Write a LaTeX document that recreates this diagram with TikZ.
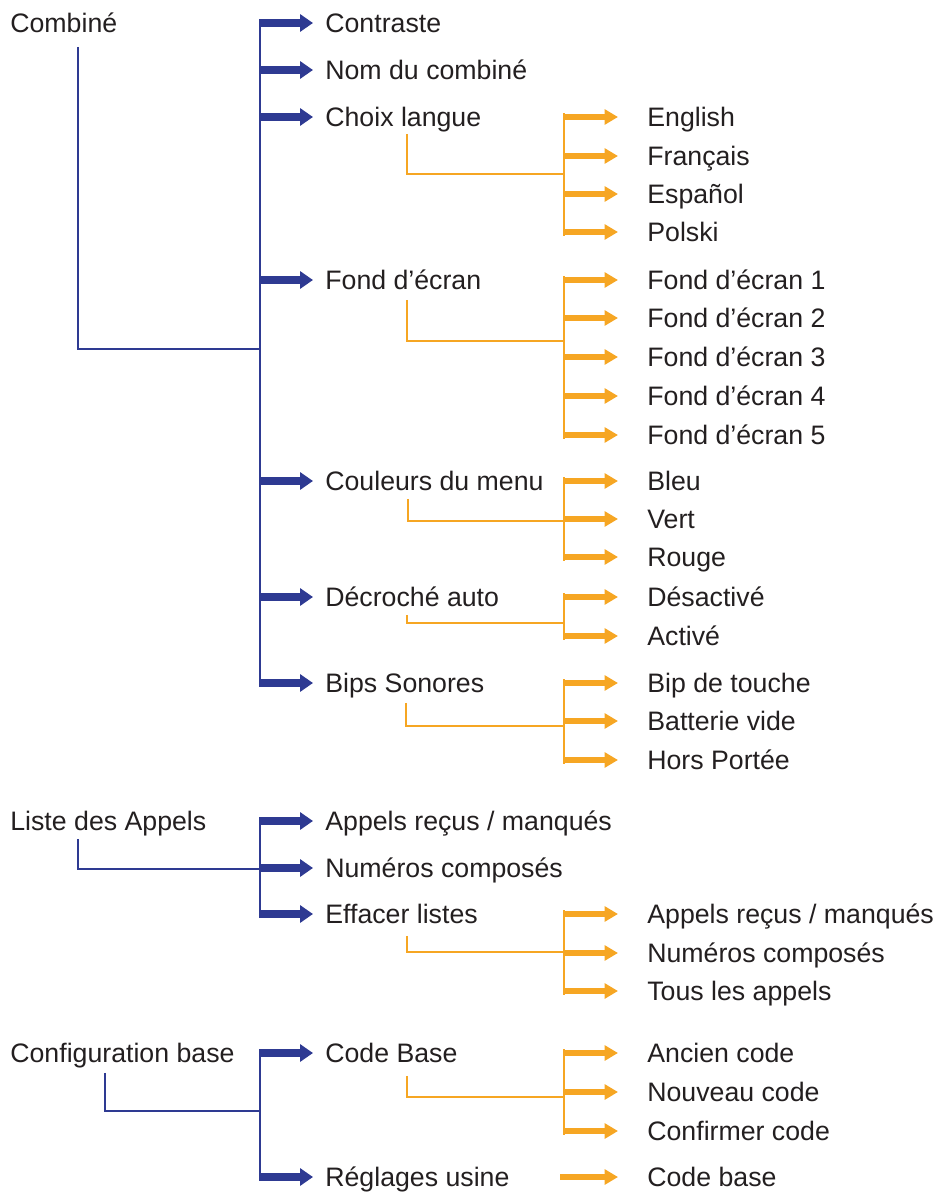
\documentclass[tikz,border=0pt]{standalone}
\usepackage{fontspec}
\setmainfont{Liberation Sans}
\usepackage{tikz}
\usetikzlibrary{arrows.meta,positioning,calc}

\definecolor{menublue}{RGB}{46,58,146}
\definecolor{menuorange}{RGB}{246,166,35}
\definecolor{menutext}{RGB}{35,31,32}

\begin{document}
\begin{tikzpicture}[x=0.02cm,y=-0.02cm,>=Latex]
\tikzstyle{item}=[anchor=west, inner sep=0pt, text height=10.8pt, text depth=0pt, text=menutext, font=\fontsize{15.2}{18}\selectfont]
\tikzstyle{bluelink}=[menublue, line width=1.1pt]
\tikzstyle{bluearrow}=[menublue, line width=4.2pt, -{Triangle[length=7.4pt,width=9.7pt]}, shorten >=0.24cm]
\tikzstyle{orangelink}=[menuorange, line width=1.1pt]
\tikzstyle{orangearrow}=[menuorange, line width=3.5pt, -{Triangle[length=7.6pt,width=8.4pt]}, shorten >=0.58cm]
\useasboundingbox (0,0) rectangle (938,1192);

% left column
\node[item] (combine) at (10,23) {Combiné};
\node[item] (liste) at (10,821) {Liste des Appels};
\node[item] (config) at (10,1053) {Configuration base};

% first level
\node[item] (contraste) at (325,23) {Contraste};
\node[item] (nom) at (325,70) {Nom du combiné};
\node[item] (choix) at (325,117) {Choix langue};
\node[item] (fond) at (325,280) {Fond d'écran};
\node[item] (couleurs) at (325,481) {Couleurs du menu};
\node[item] (decroche) at (325,597) {Décroché auto};
\node[item] (bips) at (325,683) {Bips Sonores};
\node[item] (appels) at (325,821) {Appels reçus / manqués};
\node[item] (numeros) at (325,868) {Numéros composés};
\node[item] (effacer) at (325,914) {Effacer listes};
\node[item] (codebase) at (325,1053) {Code Base};
\node[item] (reglages) at (325,1177) {Réglages usine};

% second level
\node[item] (english) at (647,117) {English};
\node[item] (francais) at (647,156) {Français};
\node[item] (espanol) at (647,194) {Español};
\node[item] (polski) at (647,232) {Polski};
\node[item] (fonda) at (647,280) {Fond d'écran 1};
\node[item] (fondb) at (647,318) {Fond d'écran 2};
\node[item] (fondc) at (647,357) {Fond d'écran 3};
\node[item] (fondd) at (647,396) {Fond d'écran 4};
\node[item] (fonde) at (647,435) {Fond d'écran 5};
\node[item] (bleu) at (647,481) {Bleu};
\node[item] (vert) at (647,519) {Vert};
\node[item] (rouge) at (647,557) {Rouge};
\node[item] (desactive) at (647,597) {Désactivé};
\node[item] (active) at (647,636) {Activé};
\node[item] (bip) at (647,683) {Bip de touche};
\node[item] (batterie) at (647,721) {Batterie vide};
\node[item] (hors) at (647,760) {Hors Portée};
\node[item] (effappels) at (647,914) {Appels reçus / manqués};
\node[item] (effnumeros) at (647,953) {Numéros composés};
\node[item] (tous) at (647,991) {Tous les appels};
\node[item] (ancien) at (647,1053) {Ancien code};
\node[item] (nouveau) at (647,1092) {Nouveau code};
\node[item] (confirmer) at (647,1131) {Confirmer code};
\node[item] (usinecode) at (647,1177) {Code base};

% junctions
\coordinate (jcombine) at (260,349);
\coordinate (jliste) at (260,869);
\coordinate (jconfig) at (260,1111);
\coordinate (jchoix) at (564,174);
\coordinate (jfond) at (564,341);
\coordinate (jcouleurs) at (564,521);
\coordinate (jdecroche) at (564,623);
\coordinate (jbips) at (564,726);
\coordinate (jeffacer) at (564,952);
\coordinate (jcodebase) at (564,1097);

% blue trees
\draw[bluelink] (combine.south west) ++(68,14) |- (jcombine);
\draw[bluelink] ([yshift=2pt]contraste.west -| jcombine) -- ([yshift=-2pt]bips.west -| jcombine);
\draw[bluearrow] (contraste.west -| jcombine) -- (contraste.west);
\draw[bluearrow] (nom.west -| jcombine) -- (nom.west);
\draw[bluearrow] (choix.west -| jcombine) -- (choix.west);
\draw[bluearrow] (fond.west -| jcombine) -- (fond.west);
\draw[bluearrow] (couleurs.west -| jcombine) -- (couleurs.west);
\draw[bluearrow] (decroche.west -| jcombine) -- (decroche.west);
\draw[bluearrow] (bips.west -| jcombine) -- (bips.west);

\draw[bluelink] (liste.south west) ++(68,8) |- (jliste);
\draw[bluelink] ([yshift=2pt]appels.west -| jliste) -- ([yshift=-2pt]effacer.west -| jliste);
\draw[bluearrow] (appels.west -| jliste) -- (appels.west);
\draw[bluearrow] (numeros.west -| jliste) -- (numeros.west);
\draw[bluearrow] (effacer.west -| jliste) -- (effacer.west);

\draw[bluelink] (config.south west) ++(95,10) |- (jconfig);
\draw[bluelink] ([yshift=2pt]codebase.west -| jconfig) -- ([yshift=-2pt]reglages.west -| jconfig);
\draw[bluearrow] (codebase.west -| jconfig) -- (codebase.west);
\draw[bluearrow] (reglages.west -| jconfig) -- (reglages.west);

% orange trees
\draw[orangelink] (choix.south west) ++(82,7) |- (jchoix);
\draw[orangelink] ([yshift=2pt]english.west -| jchoix) -- ([yshift=-2pt]polski.west -| jchoix);
\draw[orangearrow] (english.west -| jchoix) -- (english.west);
\draw[orangearrow] (francais.west -| jchoix) -- (francais.west);
\draw[orangearrow] (espanol.west -| jchoix) -- (espanol.west);
\draw[orangearrow] (polski.west -| jchoix) -- (polski.west);

\draw[orangelink] (fond.south west) ++(82,10) |- (jfond);
\draw[orangelink] ([yshift=2pt]fonda.west -| jfond) -- ([yshift=-2pt]fonde.west -| jfond);
\draw[orangearrow] (fonda.west -| jfond) -- (fonda.west);
\draw[orangearrow] (fondb.west -| jfond) -- (fondb.west);
\draw[orangearrow] (fondc.west -| jfond) -- (fondc.west);
\draw[orangearrow] (fondd.west -| jfond) -- (fondd.west);
\draw[orangearrow] (fonde.west -| jfond) -- (fonde.west);

\draw[orangelink] (couleurs.south west) ++(83,8) |- (jcouleurs);
\draw[orangelink] ([yshift=2pt]bleu.west -| jcouleurs) -- ([yshift=-2pt]rouge.west -| jcouleurs);
\draw[orangearrow] (bleu.west -| jcouleurs) -- (bleu.west);
\draw[orangearrow] (vert.west -| jcouleurs) -- (vert.west);
\draw[orangearrow] (rouge.west -| jcouleurs) -- (rouge.west);

\draw[orangelink] (decroche.south west) ++(82,8) |- (jdecroche);
\draw[orangelink] ([yshift=2pt]desactive.west -| jdecroche) -- ([yshift=-2pt]active.west -| jdecroche);
\draw[orangearrow] (desactive.west -| jdecroche) -- (desactive.west);
\draw[orangearrow] (active.west -| jdecroche) -- (active.west);

\draw[orangelink] (bips.south west) ++(81,10) |- (jbips);
\draw[orangelink] ([yshift=2pt]bip.west -| jbips) -- ([yshift=-2pt]hors.west -| jbips);
\draw[orangearrow] (bip.west -| jbips) -- (bip.west);
\draw[orangearrow] (batterie.west -| jbips) -- (batterie.west);
\draw[orangearrow] (hors.west -| jbips) -- (hors.west);

\draw[orangelink] (effacer.south west) ++(82,12) |- (jeffacer);
\draw[orangelink] ([yshift=2pt]effappels.west -| jeffacer) -- ([yshift=-2pt]tous.west -| jeffacer);
\draw[orangearrow] (effappels.west -| jeffacer) -- (effappels.west);
\draw[orangearrow] (effnumeros.west -| jeffacer) -- (effnumeros.west);
\draw[orangearrow] (tous.west -| jeffacer) -- (tous.west);

\draw[orangelink] (codebase.south west) ++(82,13) |- (jcodebase);
\draw[orangelink] ([yshift=2pt]ancien.west -| jcodebase) -- ([yshift=-2pt]confirmer.west -| jcodebase);
\draw[orangearrow] (ancien.west -| jcodebase) -- (ancien.west);
\draw[orangearrow] (nouveau.west -| jcodebase) -- (nouveau.west);
\draw[orangearrow] (confirmer.west -| jcodebase) -- (confirmer.west);

\draw[orangearrow] (reglages.west -| 560,0) -- (usinecode.west);
\end{tikzpicture}
\end{document}
